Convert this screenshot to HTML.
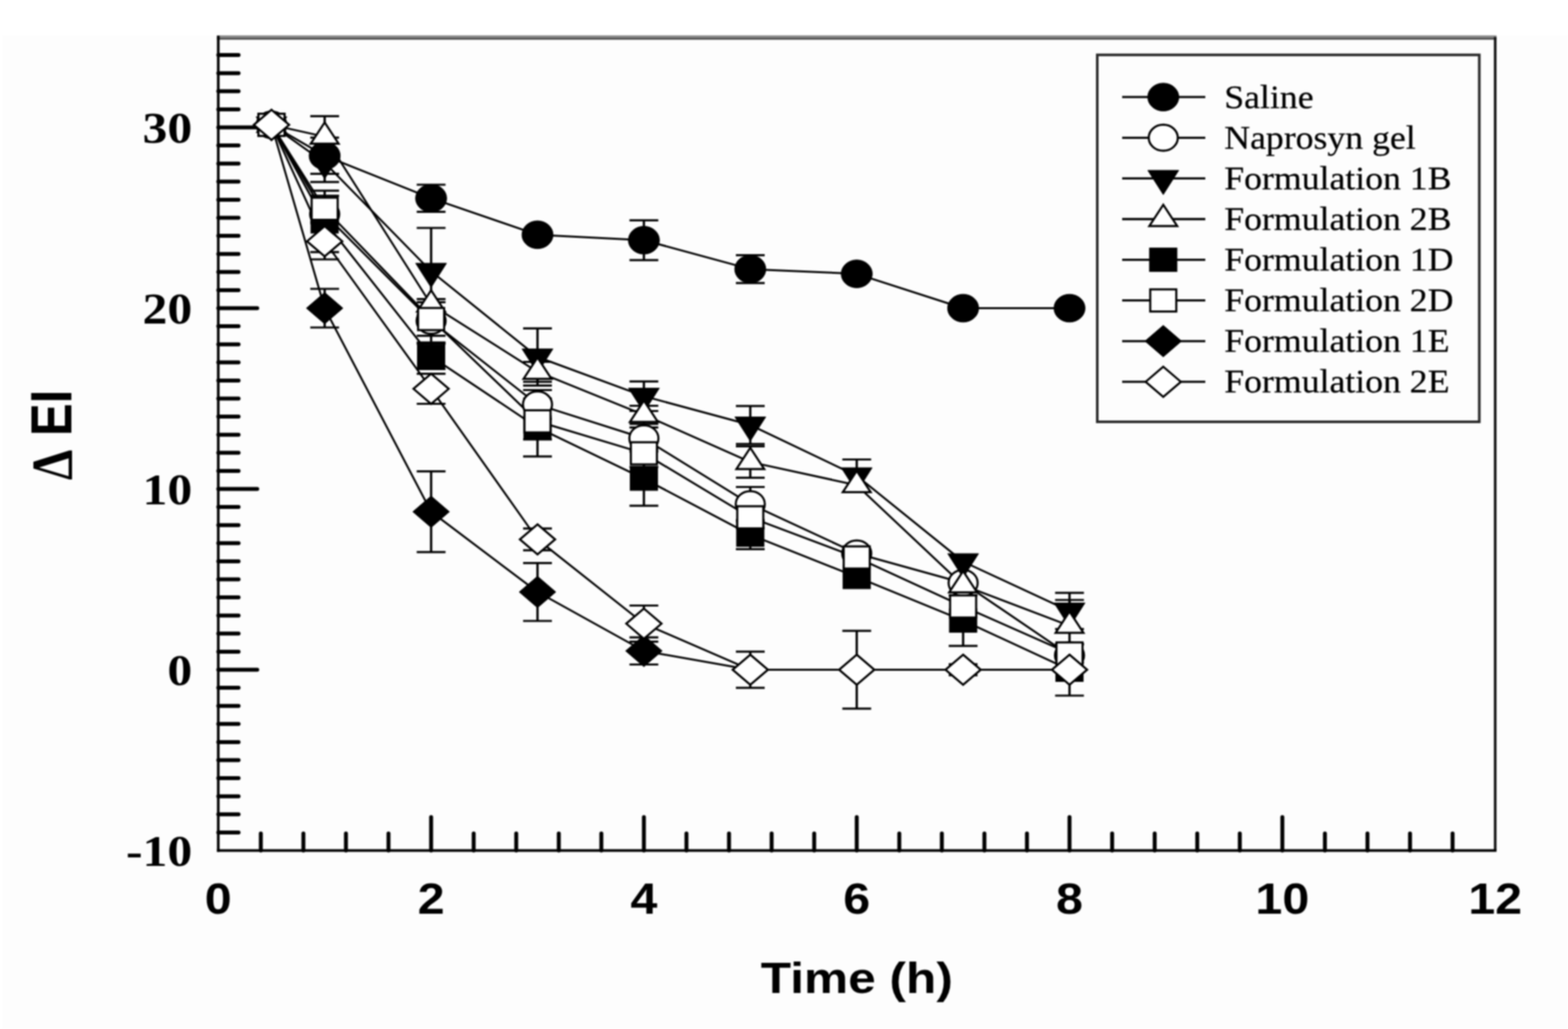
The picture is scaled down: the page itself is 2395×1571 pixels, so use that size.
<!DOCTYPE html>
<html><head><meta charset="utf-8"><title>Chart</title>
<style>html,body{margin:0;padding:0;background:#fff;} svg{display:block;filter:blur(1px);}</style>
</head><body>
<svg width="2395" height="1571" viewBox="0 0 2395 1571">
<rect x="0" y="0" width="2395" height="1571" fill="#ffffff"/>
<rect x="4" y="54" width="2391" height="1517" fill="#fdfdfd"/>
<line x1="331.4" y1="55.8" x2="2285.8" y2="55.8" stroke="#8a8a8a" stroke-width="3.4"/>
<line x1="331.4" y1="59.0" x2="2285.8" y2="59.0" stroke="#454545" stroke-width="3.0"/>
<line x1="2283.8" y1="56.5" x2="2283.8" y2="1298.5" stroke="#111" stroke-width="4"/>
<line x1="333.4" y1="54.5" x2="333.4" y2="1300.5" stroke="#000" stroke-width="4"/>
<line x1="331.4" y1="1298.5" x2="2285.8" y2="1298.5" stroke="#000" stroke-width="4"/>
<line x1="333.4" y1="1270.9" x2="364.4" y2="1270.9" stroke="#000" stroke-width="6" stroke-linecap="round"/>
<line x1="333.4" y1="1243.3" x2="364.4" y2="1243.3" stroke="#000" stroke-width="6" stroke-linecap="round"/>
<line x1="333.4" y1="1215.7" x2="364.4" y2="1215.7" stroke="#000" stroke-width="6" stroke-linecap="round"/>
<line x1="333.4" y1="1188.1" x2="364.4" y2="1188.1" stroke="#000" stroke-width="6" stroke-linecap="round"/>
<line x1="333.4" y1="1160.5" x2="364.4" y2="1160.5" stroke="#000" stroke-width="6" stroke-linecap="round"/>
<line x1="333.4" y1="1132.9" x2="364.4" y2="1132.9" stroke="#000" stroke-width="6" stroke-linecap="round"/>
<line x1="333.4" y1="1105.3" x2="364.4" y2="1105.3" stroke="#000" stroke-width="6" stroke-linecap="round"/>
<line x1="333.4" y1="1077.7" x2="364.4" y2="1077.7" stroke="#000" stroke-width="6" stroke-linecap="round"/>
<line x1="333.4" y1="1050.1" x2="364.4" y2="1050.1" stroke="#000" stroke-width="6" stroke-linecap="round"/>
<line x1="333.4" y1="1022.5" x2="392.9" y2="1022.5" stroke="#000" stroke-width="6" stroke-linecap="round"/>
<line x1="333.4" y1="994.9" x2="364.4" y2="994.9" stroke="#000" stroke-width="6" stroke-linecap="round"/>
<line x1="333.4" y1="967.3" x2="364.4" y2="967.3" stroke="#000" stroke-width="6" stroke-linecap="round"/>
<line x1="333.4" y1="939.7" x2="364.4" y2="939.7" stroke="#000" stroke-width="6" stroke-linecap="round"/>
<line x1="333.4" y1="912.1" x2="364.4" y2="912.1" stroke="#000" stroke-width="6" stroke-linecap="round"/>
<line x1="333.4" y1="884.5" x2="364.4" y2="884.5" stroke="#000" stroke-width="6" stroke-linecap="round"/>
<line x1="333.4" y1="856.9" x2="364.4" y2="856.9" stroke="#000" stroke-width="6" stroke-linecap="round"/>
<line x1="333.4" y1="829.3" x2="364.4" y2="829.3" stroke="#000" stroke-width="6" stroke-linecap="round"/>
<line x1="333.4" y1="801.7" x2="364.4" y2="801.7" stroke="#000" stroke-width="6" stroke-linecap="round"/>
<line x1="333.4" y1="774.1" x2="364.4" y2="774.1" stroke="#000" stroke-width="6" stroke-linecap="round"/>
<line x1="333.4" y1="746.5" x2="392.9" y2="746.5" stroke="#000" stroke-width="6" stroke-linecap="round"/>
<line x1="333.4" y1="718.9" x2="364.4" y2="718.9" stroke="#000" stroke-width="6" stroke-linecap="round"/>
<line x1="333.4" y1="691.3" x2="364.4" y2="691.3" stroke="#000" stroke-width="6" stroke-linecap="round"/>
<line x1="333.4" y1="663.7" x2="364.4" y2="663.7" stroke="#000" stroke-width="6" stroke-linecap="round"/>
<line x1="333.4" y1="636.1" x2="364.4" y2="636.1" stroke="#000" stroke-width="6" stroke-linecap="round"/>
<line x1="333.4" y1="608.5" x2="364.4" y2="608.5" stroke="#000" stroke-width="6" stroke-linecap="round"/>
<line x1="333.4" y1="580.9" x2="364.4" y2="580.9" stroke="#000" stroke-width="6" stroke-linecap="round"/>
<line x1="333.4" y1="553.3" x2="364.4" y2="553.3" stroke="#000" stroke-width="6" stroke-linecap="round"/>
<line x1="333.4" y1="525.7" x2="364.4" y2="525.7" stroke="#000" stroke-width="6" stroke-linecap="round"/>
<line x1="333.4" y1="498.1" x2="364.4" y2="498.1" stroke="#000" stroke-width="6" stroke-linecap="round"/>
<line x1="333.4" y1="470.5" x2="392.9" y2="470.5" stroke="#000" stroke-width="6" stroke-linecap="round"/>
<line x1="333.4" y1="442.9" x2="364.4" y2="442.9" stroke="#000" stroke-width="6" stroke-linecap="round"/>
<line x1="333.4" y1="415.3" x2="364.4" y2="415.3" stroke="#000" stroke-width="6" stroke-linecap="round"/>
<line x1="333.4" y1="387.7" x2="364.4" y2="387.7" stroke="#000" stroke-width="6" stroke-linecap="round"/>
<line x1="333.4" y1="360.1" x2="364.4" y2="360.1" stroke="#000" stroke-width="6" stroke-linecap="round"/>
<line x1="333.4" y1="332.5" x2="364.4" y2="332.5" stroke="#000" stroke-width="6" stroke-linecap="round"/>
<line x1="333.4" y1="304.9" x2="364.4" y2="304.9" stroke="#000" stroke-width="6" stroke-linecap="round"/>
<line x1="333.4" y1="277.3" x2="364.4" y2="277.3" stroke="#000" stroke-width="6" stroke-linecap="round"/>
<line x1="333.4" y1="249.7" x2="364.4" y2="249.7" stroke="#000" stroke-width="6" stroke-linecap="round"/>
<line x1="333.4" y1="222.1" x2="364.4" y2="222.1" stroke="#000" stroke-width="6" stroke-linecap="round"/>
<line x1="333.4" y1="194.5" x2="392.9" y2="194.5" stroke="#000" stroke-width="6" stroke-linecap="round"/>
<line x1="333.4" y1="166.9" x2="364.4" y2="166.9" stroke="#000" stroke-width="6" stroke-linecap="round"/>
<line x1="333.4" y1="139.3" x2="364.4" y2="139.3" stroke="#000" stroke-width="6" stroke-linecap="round"/>
<line x1="333.4" y1="111.7" x2="364.4" y2="111.7" stroke="#000" stroke-width="6" stroke-linecap="round"/>
<line x1="333.4" y1="84.1" x2="364.4" y2="84.1" stroke="#000" stroke-width="6" stroke-linecap="round"/>
<line x1="398.4" y1="1298.5" x2="398.4" y2="1272.5" stroke="#000" stroke-width="6" stroke-linecap="round"/>
<line x1="463.4" y1="1298.5" x2="463.4" y2="1272.5" stroke="#000" stroke-width="6" stroke-linecap="round"/>
<line x1="528.4" y1="1298.5" x2="528.4" y2="1272.5" stroke="#000" stroke-width="6" stroke-linecap="round"/>
<line x1="593.4" y1="1298.5" x2="593.4" y2="1272.5" stroke="#000" stroke-width="6" stroke-linecap="round"/>
<line x1="658.5" y1="1298.5" x2="658.5" y2="1247.5" stroke="#000" stroke-width="6" stroke-linecap="round"/>
<line x1="723.5" y1="1298.5" x2="723.5" y2="1272.5" stroke="#000" stroke-width="6" stroke-linecap="round"/>
<line x1="788.5" y1="1298.5" x2="788.5" y2="1272.5" stroke="#000" stroke-width="6" stroke-linecap="round"/>
<line x1="853.5" y1="1298.5" x2="853.5" y2="1272.5" stroke="#000" stroke-width="6" stroke-linecap="round"/>
<line x1="918.5" y1="1298.5" x2="918.5" y2="1272.5" stroke="#000" stroke-width="6" stroke-linecap="round"/>
<line x1="983.5" y1="1298.5" x2="983.5" y2="1247.5" stroke="#000" stroke-width="6" stroke-linecap="round"/>
<line x1="1048.5" y1="1298.5" x2="1048.5" y2="1272.5" stroke="#000" stroke-width="6" stroke-linecap="round"/>
<line x1="1113.5" y1="1298.5" x2="1113.5" y2="1272.5" stroke="#000" stroke-width="6" stroke-linecap="round"/>
<line x1="1178.6" y1="1298.5" x2="1178.6" y2="1272.5" stroke="#000" stroke-width="6" stroke-linecap="round"/>
<line x1="1243.6" y1="1298.5" x2="1243.6" y2="1272.5" stroke="#000" stroke-width="6" stroke-linecap="round"/>
<line x1="1308.6" y1="1298.5" x2="1308.6" y2="1247.5" stroke="#000" stroke-width="6" stroke-linecap="round"/>
<line x1="1373.6" y1="1298.5" x2="1373.6" y2="1272.5" stroke="#000" stroke-width="6" stroke-linecap="round"/>
<line x1="1438.6" y1="1298.5" x2="1438.6" y2="1272.5" stroke="#000" stroke-width="6" stroke-linecap="round"/>
<line x1="1503.6" y1="1298.5" x2="1503.6" y2="1272.5" stroke="#000" stroke-width="6" stroke-linecap="round"/>
<line x1="1568.6" y1="1298.5" x2="1568.6" y2="1272.5" stroke="#000" stroke-width="6" stroke-linecap="round"/>
<line x1="1633.6" y1="1298.5" x2="1633.6" y2="1247.5" stroke="#000" stroke-width="6" stroke-linecap="round"/>
<line x1="1698.7" y1="1298.5" x2="1698.7" y2="1272.5" stroke="#000" stroke-width="6" stroke-linecap="round"/>
<line x1="1763.7" y1="1298.5" x2="1763.7" y2="1272.5" stroke="#000" stroke-width="6" stroke-linecap="round"/>
<line x1="1828.7" y1="1298.5" x2="1828.7" y2="1272.5" stroke="#000" stroke-width="6" stroke-linecap="round"/>
<line x1="1893.7" y1="1298.5" x2="1893.7" y2="1272.5" stroke="#000" stroke-width="6" stroke-linecap="round"/>
<line x1="1958.7" y1="1298.5" x2="1958.7" y2="1247.5" stroke="#000" stroke-width="6" stroke-linecap="round"/>
<line x1="2023.7" y1="1298.5" x2="2023.7" y2="1272.5" stroke="#000" stroke-width="6" stroke-linecap="round"/>
<line x1="2088.7" y1="1298.5" x2="2088.7" y2="1272.5" stroke="#000" stroke-width="6" stroke-linecap="round"/>
<line x1="2153.7" y1="1298.5" x2="2153.7" y2="1272.5" stroke="#000" stroke-width="6" stroke-linecap="round"/>
<line x1="2218.7" y1="1298.5" x2="2218.7" y2="1272.5" stroke="#000" stroke-width="6" stroke-linecap="round"/>
<text transform="translate(293.5,217.5) scale(1.13,1)" text-anchor="end" font-family="'Liberation Serif', 'Times New Roman', serif" font-weight="bold" font-size="67">30</text>
<text transform="translate(293.5,493.5) scale(1.13,1)" text-anchor="end" font-family="'Liberation Serif', 'Times New Roman', serif" font-weight="bold" font-size="67">20</text>
<text transform="translate(293.5,769.5) scale(1.13,1)" text-anchor="end" font-family="'Liberation Serif', 'Times New Roman', serif" font-weight="bold" font-size="67">10</text>
<text transform="translate(293.5,1045.5) scale(1.13,1)" text-anchor="end" font-family="'Liberation Serif', 'Times New Roman', serif" font-weight="bold" font-size="67">0</text>
<text transform="translate(293.5,1321.5) scale(1.13,1)" text-anchor="end" font-family="'Liberation Serif', 'Times New Roman', serif" font-weight="bold" font-size="67">-10</text>
<text transform="translate(333.4,1395) scale(1.12,1)" text-anchor="middle" font-family="'Liberation Sans', Arial, sans-serif" font-weight="bold" font-size="66">0</text>
<text transform="translate(658.5,1395) scale(1.12,1)" text-anchor="middle" font-family="'Liberation Sans', Arial, sans-serif" font-weight="bold" font-size="66">2</text>
<text transform="translate(983.5,1395) scale(1.12,1)" text-anchor="middle" font-family="'Liberation Sans', Arial, sans-serif" font-weight="bold" font-size="66">4</text>
<text transform="translate(1308.6,1395) scale(1.12,1)" text-anchor="middle" font-family="'Liberation Sans', Arial, sans-serif" font-weight="bold" font-size="66">6</text>
<text transform="translate(1633.6,1395) scale(1.12,1)" text-anchor="middle" font-family="'Liberation Sans', Arial, sans-serif" font-weight="bold" font-size="66">8</text>
<text transform="translate(1958.7,1395) scale(1.12,1)" text-anchor="middle" font-family="'Liberation Sans', Arial, sans-serif" font-weight="bold" font-size="66">10</text>
<text transform="translate(2283.8,1395) scale(1.12,1)" text-anchor="middle" font-family="'Liberation Sans', Arial, sans-serif" font-weight="bold" font-size="66">12</text>
<text transform="translate(1308.7,1516.4) scale(1.14,1)" text-anchor="middle" font-family="'Liberation Sans', Arial, sans-serif" font-weight="bold" font-size="66.5">Time (h)</text>
<text transform="translate(109.4,733) rotate(-90) scale(1,1.19)" font-family="'Liberation Sans', Arial, sans-serif" font-weight="bold" font-size="75"><tspan font-family="'Liberation Serif', 'Times New Roman', serif" font-weight="bold" font-size="74">&#916;</tspan> EI</text>
<polyline points="414.7,190.6 495.9,237.8 658.5,302.7 821.0,358.4 983.5,366.7 1146.0,410.9 1308.6,418.1 1471.1,470.5 1633.6,470.5" fill="none" stroke="#000" stroke-width="3" stroke-linejoin="round"/>
<polyline points="414.7,190.6 495.9,327.0 658.5,489.8 821.0,617.6 983.5,669.2 1146.0,769.7 1308.6,845.0 1471.1,890.0 1633.6,1000.4" fill="none" stroke="#000" stroke-width="3" stroke-linejoin="round"/>
<polyline points="414.7,190.6 495.9,248.3 658.5,414.2 821.0,545.0 983.5,604.9 1146.0,648.8 1308.6,726.4 1471.1,857.5 1633.6,932.8" fill="none" stroke="#000" stroke-width="3" stroke-linejoin="round"/>
<polyline points="414.7,190.6 495.9,208.6 658.5,465.0 821.0,567.7 983.5,633.3 1146.0,705.4 1308.6,740.7 1471.1,893.6 1633.6,955.4" fill="none" stroke="#000" stroke-width="3" stroke-linejoin="round"/>
<polyline points="414.7,190.6 495.9,338.0 658.5,544.2 821.0,652.7 983.5,730.8 1146.0,816.3 1308.6,880.9 1471.1,947.4 1633.6,1022.5" fill="none" stroke="#000" stroke-width="3" stroke-linejoin="round"/>
<polyline points="414.7,190.6 495.9,318.7 658.5,487.1 821.0,643.3 983.5,692.1 1146.0,789.8 1308.6,851.1 1471.1,925.9 1633.6,997.7" fill="none" stroke="#000" stroke-width="3" stroke-linejoin="round"/>
<polyline points="414.7,190.6 495.9,470.5 658.5,781.3 821.0,903.8 983.5,993.8 1146.0,1022.5 1308.6,1022.5 1471.1,1022.5 1633.6,1022.5" fill="none" stroke="#000" stroke-width="3" stroke-linejoin="round"/>
<polyline points="414.7,190.6 495.9,368.4 658.5,593.6 821.0,823.5 983.5,952.1 1146.0,1022.5 1308.6,1022.5 1471.1,1022.5 1633.6,1022.5" fill="none" stroke="#000" stroke-width="3" stroke-linejoin="round"/>
<line x1="658.5" y1="282.0" x2="658.5" y2="323.4" stroke="#000" stroke-width="3.5"/>
<line x1="636.5" y1="282.0" x2="680.5" y2="282.0" stroke="#000" stroke-width="3.2"/>
<line x1="636.5" y1="323.4" x2="680.5" y2="323.4" stroke="#000" stroke-width="3.2"/>
<line x1="983.5" y1="336.4" x2="983.5" y2="397.1" stroke="#000" stroke-width="3.5"/>
<line x1="961.5" y1="336.4" x2="1005.5" y2="336.4" stroke="#000" stroke-width="3.2"/>
<line x1="961.5" y1="397.1" x2="1005.5" y2="397.1" stroke="#000" stroke-width="3.2"/>
<line x1="1146.0" y1="389.6" x2="1146.0" y2="432.1" stroke="#000" stroke-width="3.5"/>
<line x1="1124.0" y1="389.6" x2="1168.0" y2="389.6" stroke="#000" stroke-width="3.2"/>
<line x1="1124.0" y1="432.1" x2="1168.0" y2="432.1" stroke="#000" stroke-width="3.2"/>
<line x1="495.9" y1="210.2" x2="495.9" y2="265.4" stroke="#000" stroke-width="3.5"/>
<line x1="473.9" y1="210.2" x2="517.9" y2="210.2" stroke="#000" stroke-width="3.2"/>
<line x1="473.9" y1="265.4" x2="517.9" y2="265.4" stroke="#000" stroke-width="3.2"/>
<line x1="658.5" y1="456.7" x2="658.5" y2="522.9" stroke="#000" stroke-width="3.5"/>
<line x1="636.5" y1="456.7" x2="680.5" y2="456.7" stroke="#000" stroke-width="3.2"/>
<line x1="636.5" y1="522.9" x2="680.5" y2="522.9" stroke="#000" stroke-width="3.2"/>
<line x1="821.0" y1="595.5" x2="821.0" y2="639.7" stroke="#000" stroke-width="3.5"/>
<line x1="799.0" y1="595.5" x2="843.0" y2="595.5" stroke="#000" stroke-width="3.2"/>
<line x1="799.0" y1="639.7" x2="843.0" y2="639.7" stroke="#000" stroke-width="3.2"/>
<line x1="983.5" y1="652.7" x2="983.5" y2="685.8" stroke="#000" stroke-width="3.5"/>
<line x1="961.5" y1="652.7" x2="1005.5" y2="652.7" stroke="#000" stroke-width="3.2"/>
<line x1="961.5" y1="685.8" x2="1005.5" y2="685.8" stroke="#000" stroke-width="3.2"/>
<line x1="1146.0" y1="743.5" x2="1146.0" y2="795.9" stroke="#000" stroke-width="3.5"/>
<line x1="1124.0" y1="743.5" x2="1168.0" y2="743.5" stroke="#000" stroke-width="3.2"/>
<line x1="1124.0" y1="795.9" x2="1168.0" y2="795.9" stroke="#000" stroke-width="3.2"/>
<line x1="495.9" y1="218.8" x2="495.9" y2="277.9" stroke="#000" stroke-width="3.5"/>
<line x1="473.9" y1="218.8" x2="517.9" y2="218.8" stroke="#000" stroke-width="3.2"/>
<line x1="473.9" y1="277.9" x2="517.9" y2="277.9" stroke="#000" stroke-width="3.2"/>
<line x1="658.5" y1="348.0" x2="658.5" y2="480.4" stroke="#000" stroke-width="3.5"/>
<line x1="636.5" y1="348.0" x2="680.5" y2="348.0" stroke="#000" stroke-width="3.2"/>
<line x1="636.5" y1="480.4" x2="680.5" y2="480.4" stroke="#000" stroke-width="3.2"/>
<line x1="821.0" y1="501.4" x2="821.0" y2="588.6" stroke="#000" stroke-width="3.5"/>
<line x1="799.0" y1="501.4" x2="843.0" y2="501.4" stroke="#000" stroke-width="3.2"/>
<line x1="799.0" y1="588.6" x2="843.0" y2="588.6" stroke="#000" stroke-width="3.2"/>
<line x1="983.5" y1="582.3" x2="983.5" y2="627.5" stroke="#000" stroke-width="3.5"/>
<line x1="961.5" y1="582.3" x2="1005.5" y2="582.3" stroke="#000" stroke-width="3.2"/>
<line x1="961.5" y1="627.5" x2="1005.5" y2="627.5" stroke="#000" stroke-width="3.2"/>
<line x1="1146.0" y1="619.8" x2="1146.0" y2="677.8" stroke="#000" stroke-width="3.5"/>
<line x1="1124.0" y1="619.8" x2="1168.0" y2="619.8" stroke="#000" stroke-width="3.2"/>
<line x1="1124.0" y1="677.8" x2="1168.0" y2="677.8" stroke="#000" stroke-width="3.2"/>
<line x1="1308.6" y1="701.5" x2="1308.6" y2="751.2" stroke="#000" stroke-width="3.5"/>
<line x1="1286.6" y1="701.5" x2="1330.6" y2="701.5" stroke="#000" stroke-width="3.2"/>
<line x1="1286.6" y1="751.2" x2="1330.6" y2="751.2" stroke="#000" stroke-width="3.2"/>
<line x1="1633.6" y1="905.2" x2="1633.6" y2="960.4" stroke="#000" stroke-width="3.5"/>
<line x1="1611.6" y1="905.2" x2="1655.6" y2="905.2" stroke="#000" stroke-width="3.2"/>
<line x1="1611.6" y1="960.4" x2="1655.6" y2="960.4" stroke="#000" stroke-width="3.2"/>
<line x1="495.9" y1="177.4" x2="495.9" y2="239.8" stroke="#000" stroke-width="3.5"/>
<line x1="473.9" y1="177.4" x2="517.9" y2="177.4" stroke="#000" stroke-width="3.2"/>
<line x1="473.9" y1="239.8" x2="517.9" y2="239.8" stroke="#000" stroke-width="3.2"/>
<line x1="821.0" y1="552.5" x2="821.0" y2="582.8" stroke="#000" stroke-width="3.5"/>
<line x1="799.0" y1="552.5" x2="843.0" y2="552.5" stroke="#000" stroke-width="3.2"/>
<line x1="799.0" y1="582.8" x2="843.0" y2="582.8" stroke="#000" stroke-width="3.2"/>
<line x1="983.5" y1="619.5" x2="983.5" y2="647.1" stroke="#000" stroke-width="3.5"/>
<line x1="961.5" y1="619.5" x2="1005.5" y2="619.5" stroke="#000" stroke-width="3.2"/>
<line x1="961.5" y1="647.1" x2="1005.5" y2="647.1" stroke="#000" stroke-width="3.2"/>
<line x1="1146.0" y1="681.4" x2="1146.0" y2="729.4" stroke="#000" stroke-width="3.5"/>
<line x1="1124.0" y1="681.4" x2="1168.0" y2="681.4" stroke="#000" stroke-width="3.2"/>
<line x1="1124.0" y1="729.4" x2="1168.0" y2="729.4" stroke="#000" stroke-width="3.2"/>
<line x1="1633.6" y1="916.0" x2="1633.6" y2="994.9" stroke="#000" stroke-width="3.5"/>
<line x1="1611.6" y1="916.0" x2="1655.6" y2="916.0" stroke="#000" stroke-width="3.2"/>
<line x1="1611.6" y1="994.9" x2="1655.6" y2="994.9" stroke="#000" stroke-width="3.2"/>
<line x1="495.9" y1="291.1" x2="495.9" y2="384.9" stroke="#000" stroke-width="3.5"/>
<line x1="473.9" y1="291.1" x2="517.9" y2="291.1" stroke="#000" stroke-width="3.2"/>
<line x1="473.9" y1="384.9" x2="517.9" y2="384.9" stroke="#000" stroke-width="3.2"/>
<line x1="658.5" y1="524.9" x2="658.5" y2="563.5" stroke="#000" stroke-width="3.5"/>
<line x1="636.5" y1="524.9" x2="680.5" y2="524.9" stroke="#000" stroke-width="3.2"/>
<line x1="636.5" y1="563.5" x2="680.5" y2="563.5" stroke="#000" stroke-width="3.2"/>
<line x1="821.0" y1="608.5" x2="821.0" y2="696.8" stroke="#000" stroke-width="3.5"/>
<line x1="799.0" y1="608.5" x2="843.0" y2="608.5" stroke="#000" stroke-width="3.2"/>
<line x1="799.0" y1="696.8" x2="843.0" y2="696.8" stroke="#000" stroke-width="3.2"/>
<line x1="983.5" y1="689.4" x2="983.5" y2="772.2" stroke="#000" stroke-width="3.5"/>
<line x1="961.5" y1="689.4" x2="1005.5" y2="689.4" stroke="#000" stroke-width="3.2"/>
<line x1="961.5" y1="772.2" x2="1005.5" y2="772.2" stroke="#000" stroke-width="3.2"/>
<line x1="1146.0" y1="794.2" x2="1146.0" y2="838.4" stroke="#000" stroke-width="3.5"/>
<line x1="1124.0" y1="794.2" x2="1168.0" y2="794.2" stroke="#000" stroke-width="3.2"/>
<line x1="1124.0" y1="838.4" x2="1168.0" y2="838.4" stroke="#000" stroke-width="3.2"/>
<line x1="1471.1" y1="908.8" x2="1471.1" y2="986.1" stroke="#000" stroke-width="3.5"/>
<line x1="1449.1" y1="908.8" x2="1493.1" y2="908.8" stroke="#000" stroke-width="3.2"/>
<line x1="1449.1" y1="986.1" x2="1493.1" y2="986.1" stroke="#000" stroke-width="3.2"/>
<line x1="1633.6" y1="983.0" x2="1633.6" y2="1062.0" stroke="#000" stroke-width="3.5"/>
<line x1="1611.6" y1="983.0" x2="1655.6" y2="983.0" stroke="#000" stroke-width="3.2"/>
<line x1="1611.6" y1="1062.0" x2="1655.6" y2="1062.0" stroke="#000" stroke-width="3.2"/>
<line x1="495.9" y1="298.8" x2="495.9" y2="338.6" stroke="#000" stroke-width="3.5"/>
<line x1="473.9" y1="298.8" x2="517.9" y2="298.8" stroke="#000" stroke-width="3.2"/>
<line x1="473.9" y1="338.6" x2="517.9" y2="338.6" stroke="#000" stroke-width="3.2"/>
<line x1="658.5" y1="461.4" x2="658.5" y2="512.7" stroke="#000" stroke-width="3.5"/>
<line x1="636.5" y1="461.4" x2="680.5" y2="461.4" stroke="#000" stroke-width="3.2"/>
<line x1="636.5" y1="512.7" x2="680.5" y2="512.7" stroke="#000" stroke-width="3.2"/>
<line x1="821.0" y1="615.7" x2="821.0" y2="670.9" stroke="#000" stroke-width="3.5"/>
<line x1="799.0" y1="615.7" x2="843.0" y2="615.7" stroke="#000" stroke-width="3.2"/>
<line x1="799.0" y1="670.9" x2="843.0" y2="670.9" stroke="#000" stroke-width="3.2"/>
<line x1="983.5" y1="671.4" x2="983.5" y2="712.8" stroke="#000" stroke-width="3.5"/>
<line x1="961.5" y1="671.4" x2="1005.5" y2="671.4" stroke="#000" stroke-width="3.2"/>
<line x1="961.5" y1="712.8" x2="1005.5" y2="712.8" stroke="#000" stroke-width="3.2"/>
<line x1="1146.0" y1="773.3" x2="1146.0" y2="806.4" stroke="#000" stroke-width="3.5"/>
<line x1="1124.0" y1="773.3" x2="1168.0" y2="773.3" stroke="#000" stroke-width="3.2"/>
<line x1="1124.0" y1="806.4" x2="1168.0" y2="806.4" stroke="#000" stroke-width="3.2"/>
<line x1="1633.6" y1="983.9" x2="1633.6" y2="1011.5" stroke="#000" stroke-width="3.5"/>
<line x1="1611.6" y1="983.9" x2="1655.6" y2="983.9" stroke="#000" stroke-width="3.2"/>
<line x1="1611.6" y1="1011.5" x2="1655.6" y2="1011.5" stroke="#000" stroke-width="3.2"/>
<line x1="495.9" y1="441.0" x2="495.9" y2="500.0" stroke="#000" stroke-width="3.5"/>
<line x1="473.9" y1="441.0" x2="517.9" y2="441.0" stroke="#000" stroke-width="3.2"/>
<line x1="473.9" y1="500.0" x2="517.9" y2="500.0" stroke="#000" stroke-width="3.2"/>
<line x1="658.5" y1="719.7" x2="658.5" y2="842.8" stroke="#000" stroke-width="3.5"/>
<line x1="636.5" y1="719.7" x2="680.5" y2="719.7" stroke="#000" stroke-width="3.2"/>
<line x1="636.5" y1="842.8" x2="680.5" y2="842.8" stroke="#000" stroke-width="3.2"/>
<line x1="821.0" y1="859.7" x2="821.0" y2="948.0" stroke="#000" stroke-width="3.5"/>
<line x1="799.0" y1="859.7" x2="843.0" y2="859.7" stroke="#000" stroke-width="3.2"/>
<line x1="799.0" y1="948.0" x2="843.0" y2="948.0" stroke="#000" stroke-width="3.2"/>
<line x1="983.5" y1="973.1" x2="983.5" y2="1014.5" stroke="#000" stroke-width="3.5"/>
<line x1="961.5" y1="973.1" x2="1005.5" y2="973.1" stroke="#000" stroke-width="3.2"/>
<line x1="961.5" y1="1014.5" x2="1005.5" y2="1014.5" stroke="#000" stroke-width="3.2"/>
<line x1="495.9" y1="340.8" x2="495.9" y2="396.0" stroke="#000" stroke-width="3.5"/>
<line x1="473.9" y1="340.8" x2="517.9" y2="340.8" stroke="#000" stroke-width="3.2"/>
<line x1="473.9" y1="396.0" x2="517.9" y2="396.0" stroke="#000" stroke-width="3.2"/>
<line x1="658.5" y1="570.7" x2="658.5" y2="616.5" stroke="#000" stroke-width="3.5"/>
<line x1="636.5" y1="570.7" x2="680.5" y2="570.7" stroke="#000" stroke-width="3.2"/>
<line x1="636.5" y1="616.5" x2="680.5" y2="616.5" stroke="#000" stroke-width="3.2"/>
<line x1="821.0" y1="806.9" x2="821.0" y2="840.1" stroke="#000" stroke-width="3.5"/>
<line x1="799.0" y1="806.9" x2="843.0" y2="806.9" stroke="#000" stroke-width="3.2"/>
<line x1="799.0" y1="840.1" x2="843.0" y2="840.1" stroke="#000" stroke-width="3.2"/>
<line x1="983.5" y1="924.5" x2="983.5" y2="979.7" stroke="#000" stroke-width="3.5"/>
<line x1="961.5" y1="924.5" x2="1005.5" y2="924.5" stroke="#000" stroke-width="3.2"/>
<line x1="961.5" y1="979.7" x2="1005.5" y2="979.7" stroke="#000" stroke-width="3.2"/>
<line x1="1146.0" y1="994.9" x2="1146.0" y2="1050.1" stroke="#000" stroke-width="3.5"/>
<line x1="1124.0" y1="994.9" x2="1168.0" y2="994.9" stroke="#000" stroke-width="3.2"/>
<line x1="1124.0" y1="1050.1" x2="1168.0" y2="1050.1" stroke="#000" stroke-width="3.2"/>
<line x1="1308.6" y1="963.2" x2="1308.6" y2="1081.8" stroke="#000" stroke-width="3.5"/>
<line x1="1286.6" y1="963.2" x2="1330.6" y2="963.2" stroke="#000" stroke-width="3.2"/>
<line x1="1286.6" y1="1081.8" x2="1330.6" y2="1081.8" stroke="#000" stroke-width="3.2"/>
<line x1="1471.1" y1="1014.2" x2="1471.1" y2="1030.8" stroke="#000" stroke-width="3.5"/>
<line x1="1449.1" y1="1014.2" x2="1493.1" y2="1014.2" stroke="#000" stroke-width="3.2"/>
<line x1="1449.1" y1="1030.8" x2="1493.1" y2="1030.8" stroke="#000" stroke-width="3.2"/>
<ellipse cx="414.7" cy="190.6" rx="23.8" ry="21.3" fill="#000" stroke="#000" stroke-width="1"/>
<ellipse cx="495.9" cy="237.8" rx="23.8" ry="21.3" fill="#000" stroke="#000" stroke-width="1"/>
<ellipse cx="658.5" cy="302.7" rx="23.8" ry="21.3" fill="#000" stroke="#000" stroke-width="1"/>
<ellipse cx="821.0" cy="358.4" rx="23.8" ry="21.3" fill="#000" stroke="#000" stroke-width="1"/>
<ellipse cx="983.5" cy="366.7" rx="23.8" ry="21.3" fill="#000" stroke="#000" stroke-width="1"/>
<ellipse cx="1146.0" cy="410.9" rx="23.8" ry="21.3" fill="#000" stroke="#000" stroke-width="1"/>
<ellipse cx="1308.6" cy="418.1" rx="23.8" ry="21.3" fill="#000" stroke="#000" stroke-width="1"/>
<ellipse cx="1471.1" cy="470.5" rx="23.8" ry="21.3" fill="#000" stroke="#000" stroke-width="1"/>
<ellipse cx="1633.6" cy="470.5" rx="23.8" ry="21.3" fill="#000" stroke="#000" stroke-width="1"/>
<ellipse cx="414.7" cy="190.6" rx="22.2" ry="19.9" fill="#fff" stroke="#000" stroke-width="3.2"/>
<ellipse cx="495.9" cy="327.0" rx="22.2" ry="19.9" fill="#fff" stroke="#000" stroke-width="3.2"/>
<ellipse cx="658.5" cy="489.8" rx="22.2" ry="19.9" fill="#fff" stroke="#000" stroke-width="3.2"/>
<ellipse cx="821.0" cy="617.6" rx="22.2" ry="19.9" fill="#fff" stroke="#000" stroke-width="3.2"/>
<ellipse cx="983.5" cy="669.2" rx="22.2" ry="19.9" fill="#fff" stroke="#000" stroke-width="3.2"/>
<ellipse cx="1146.0" cy="769.7" rx="22.2" ry="19.9" fill="#fff" stroke="#000" stroke-width="3.2"/>
<ellipse cx="1308.6" cy="845.0" rx="22.2" ry="19.9" fill="#fff" stroke="#000" stroke-width="3.2"/>
<ellipse cx="1471.1" cy="890.0" rx="22.2" ry="19.9" fill="#fff" stroke="#000" stroke-width="3.2"/>
<ellipse cx="1633.6" cy="1000.4" rx="22.2" ry="19.9" fill="#fff" stroke="#000" stroke-width="3.2"/>
<polygon points="391.0,178.3 438.3,178.3 414.7,215.4" fill="#000" stroke="#000" stroke-width="1" stroke-linejoin="miter"/>
<polygon points="472.3,236.0 519.6,236.0 495.9,273.1" fill="#000" stroke="#000" stroke-width="1" stroke-linejoin="miter"/>
<polygon points="634.8,401.9 682.1,401.9 658.5,439.0" fill="#000" stroke="#000" stroke-width="1" stroke-linejoin="miter"/>
<polygon points="797.3,532.7 844.6,532.7 821.0,569.8" fill="#000" stroke="#000" stroke-width="1" stroke-linejoin="miter"/>
<polygon points="959.9,592.6 1007.2,592.6 983.5,629.7" fill="#000" stroke="#000" stroke-width="1" stroke-linejoin="miter"/>
<polygon points="1122.4,636.5 1169.7,636.5 1146.0,673.6" fill="#000" stroke="#000" stroke-width="1" stroke-linejoin="miter"/>
<polygon points="1284.9,714.1 1332.2,714.1 1308.6,751.2" fill="#000" stroke="#000" stroke-width="1" stroke-linejoin="miter"/>
<polygon points="1447.5,845.2 1494.8,845.2 1471.1,882.3" fill="#000" stroke="#000" stroke-width="1" stroke-linejoin="miter"/>
<polygon points="1610.0,920.5 1657.3,920.5 1633.6,957.6" fill="#000" stroke="#000" stroke-width="1" stroke-linejoin="miter"/>
<polygon points="414.7,168.8 435.9,201.4 393.4,201.4" fill="#fff" stroke="#000" stroke-width="3.2" stroke-linejoin="miter"/>
<polygon points="495.9,186.8 517.2,219.3 474.6,219.3" fill="#fff" stroke="#000" stroke-width="3.2" stroke-linejoin="miter"/>
<polygon points="658.5,443.2 679.7,475.7 637.2,475.7" fill="#fff" stroke="#000" stroke-width="3.2" stroke-linejoin="miter"/>
<polygon points="821.0,545.9 842.3,578.4 799.7,578.4" fill="#fff" stroke="#000" stroke-width="3.2" stroke-linejoin="miter"/>
<polygon points="983.5,611.6 1004.8,644.1 962.2,644.1" fill="#fff" stroke="#000" stroke-width="3.2" stroke-linejoin="miter"/>
<polygon points="1146.0,683.6 1167.3,716.1 1124.8,716.1" fill="#fff" stroke="#000" stroke-width="3.2" stroke-linejoin="miter"/>
<polygon points="1308.6,718.9 1329.9,751.4 1287.3,751.4" fill="#fff" stroke="#000" stroke-width="3.2" stroke-linejoin="miter"/>
<polygon points="1471.1,871.8 1492.4,904.3 1449.8,904.3" fill="#fff" stroke="#000" stroke-width="3.2" stroke-linejoin="miter"/>
<polygon points="1633.6,933.6 1654.9,966.2 1612.4,966.2" fill="#fff" stroke="#000" stroke-width="3.2" stroke-linejoin="miter"/>
<rect x="393.7" y="172.6" width="42.0" height="36.0" fill="#000" stroke="#000" stroke-width="1" stroke-linejoin="miter"/>
<rect x="474.9" y="320.0" width="42.0" height="36.0" fill="#000" stroke="#000" stroke-width="1" stroke-linejoin="miter"/>
<rect x="637.5" y="526.2" width="42.0" height="36.0" fill="#000" stroke="#000" stroke-width="1" stroke-linejoin="miter"/>
<rect x="800.0" y="634.7" width="42.0" height="36.0" fill="#000" stroke="#000" stroke-width="1" stroke-linejoin="miter"/>
<rect x="962.5" y="712.8" width="42.0" height="36.0" fill="#000" stroke="#000" stroke-width="1" stroke-linejoin="miter"/>
<rect x="1125.0" y="798.3" width="42.0" height="36.0" fill="#000" stroke="#000" stroke-width="1" stroke-linejoin="miter"/>
<rect x="1287.6" y="862.9" width="42.0" height="36.0" fill="#000" stroke="#000" stroke-width="1" stroke-linejoin="miter"/>
<rect x="1450.1" y="929.4" width="42.0" height="36.0" fill="#000" stroke="#000" stroke-width="1" stroke-linejoin="miter"/>
<rect x="1612.6" y="1004.5" width="42.0" height="36.0" fill="#000" stroke="#000" stroke-width="1" stroke-linejoin="miter"/>
<rect x="394.8" y="173.7" width="39.8" height="33.8" fill="#fff" stroke="#000" stroke-width="3.2" stroke-linejoin="miter"/>
<rect x="476.0" y="301.8" width="39.8" height="33.8" fill="#fff" stroke="#000" stroke-width="3.2" stroke-linejoin="miter"/>
<rect x="638.6" y="470.2" width="39.8" height="33.8" fill="#fff" stroke="#000" stroke-width="3.2" stroke-linejoin="miter"/>
<rect x="801.1" y="626.4" width="39.8" height="33.8" fill="#fff" stroke="#000" stroke-width="3.2" stroke-linejoin="miter"/>
<rect x="963.6" y="675.2" width="39.8" height="33.8" fill="#fff" stroke="#000" stroke-width="3.2" stroke-linejoin="miter"/>
<rect x="1126.1" y="772.9" width="39.8" height="33.8" fill="#fff" stroke="#000" stroke-width="3.2" stroke-linejoin="miter"/>
<rect x="1288.7" y="834.2" width="39.8" height="33.8" fill="#fff" stroke="#000" stroke-width="3.2" stroke-linejoin="miter"/>
<rect x="1451.2" y="909.0" width="39.8" height="33.8" fill="#fff" stroke="#000" stroke-width="3.2" stroke-linejoin="miter"/>
<rect x="1613.7" y="980.8" width="39.8" height="33.8" fill="#fff" stroke="#000" stroke-width="3.2" stroke-linejoin="miter"/>
<polygon points="414.7,166.5 442.7,190.6 414.7,214.7 386.7,190.6" fill="#000" stroke="#000" stroke-width="1" stroke-linejoin="miter"/>
<polygon points="495.9,446.4 523.9,470.5 495.9,494.6 467.9,470.5" fill="#000" stroke="#000" stroke-width="1" stroke-linejoin="miter"/>
<polygon points="658.5,757.2 686.5,781.3 658.5,805.4 630.5,781.3" fill="#000" stroke="#000" stroke-width="1" stroke-linejoin="miter"/>
<polygon points="821.0,879.7 849.0,903.8 821.0,927.9 793.0,903.8" fill="#000" stroke="#000" stroke-width="1" stroke-linejoin="miter"/>
<polygon points="983.5,969.7 1011.5,993.8 983.5,1017.9 955.5,993.8" fill="#000" stroke="#000" stroke-width="1" stroke-linejoin="miter"/>
<polygon points="1146.0,998.4 1174.0,1022.5 1146.0,1046.6 1118.0,1022.5" fill="#000" stroke="#000" stroke-width="1" stroke-linejoin="miter"/>
<polygon points="1308.6,998.4 1336.6,1022.5 1308.6,1046.6 1280.6,1022.5" fill="#000" stroke="#000" stroke-width="1" stroke-linejoin="miter"/>
<polygon points="1471.1,998.4 1499.1,1022.5 1471.1,1046.6 1443.1,1022.5" fill="#000" stroke="#000" stroke-width="1" stroke-linejoin="miter"/>
<polygon points="1633.6,998.4 1661.6,1022.5 1633.6,1046.6 1605.6,1022.5" fill="#000" stroke="#000" stroke-width="1" stroke-linejoin="miter"/>
<polygon points="414.7,167.6 441.6,190.6 414.7,213.6 387.8,190.6" fill="#fff" stroke="#000" stroke-width="3.2" stroke-linejoin="miter"/>
<polygon points="495.9,345.4 522.8,368.4 495.9,391.4 469.0,368.4" fill="#fff" stroke="#000" stroke-width="3.2" stroke-linejoin="miter"/>
<polygon points="658.5,570.6 685.4,593.6 658.5,616.6 631.6,593.6" fill="#fff" stroke="#000" stroke-width="3.2" stroke-linejoin="miter"/>
<polygon points="821.0,800.5 847.9,823.5 821.0,846.5 794.1,823.5" fill="#fff" stroke="#000" stroke-width="3.2" stroke-linejoin="miter"/>
<polygon points="983.5,929.1 1010.4,952.1 983.5,975.1 956.6,952.1" fill="#fff" stroke="#000" stroke-width="3.2" stroke-linejoin="miter"/>
<polygon points="1146.0,999.5 1173.0,1022.5 1146.0,1045.5 1119.1,1022.5" fill="#fff" stroke="#000" stroke-width="3.2" stroke-linejoin="miter"/>
<polygon points="1308.6,999.5 1335.5,1022.5 1308.6,1045.5 1281.7,1022.5" fill="#fff" stroke="#000" stroke-width="3.2" stroke-linejoin="miter"/>
<polygon points="1471.1,999.5 1498.0,1022.5 1471.1,1045.5 1444.2,1022.5" fill="#fff" stroke="#000" stroke-width="3.2" stroke-linejoin="miter"/>
<polygon points="1633.6,999.5 1660.5,1022.5 1633.6,1045.5 1606.7,1022.5" fill="#fff" stroke="#000" stroke-width="3.2" stroke-linejoin="miter"/>
<rect x="1676" y="83.8" width="583.5" height="560.2" fill="#fdfdfd" stroke="#2a2a2a" stroke-width="4"/>
<line x1="1714" y1="148.2" x2="1841" y2="148.2" stroke="#000" stroke-width="3.3"/>
<ellipse cx="1776.8" cy="148.2" rx="23.8" ry="21.3" fill="#000" stroke="#000" stroke-width="1"/>
<text transform="translate(1870,164.6) scale(1.07,1)" font-family="'Liberation Serif', 'Times New Roman', serif" font-size="51" stroke="#000" stroke-width="0.3">Saline</text>
<line x1="1714" y1="210.3" x2="1841" y2="210.3" stroke="#000" stroke-width="3.3"/>
<ellipse cx="1776.8" cy="210.3" rx="22.2" ry="19.9" fill="#fff" stroke="#000" stroke-width="3.2"/>
<text transform="translate(1870,226.7) scale(1.07,1)" font-family="'Liberation Serif', 'Times New Roman', serif" font-size="51" stroke="#000" stroke-width="0.3">Naprosyn gel</text>
<line x1="1714" y1="272.4" x2="1841" y2="272.4" stroke="#000" stroke-width="3.3"/>
<polygon points="1753.1,260.1 1800.5,260.1 1776.8,297.2" fill="#000" stroke="#000" stroke-width="1" stroke-linejoin="miter"/>
<text transform="translate(1870,288.8) scale(1.07,1)" font-family="'Liberation Serif', 'Times New Roman', serif" font-size="51" stroke="#000" stroke-width="0.3">Formulation 1B</text>
<line x1="1714" y1="334.5" x2="1841" y2="334.5" stroke="#000" stroke-width="3.3"/>
<polygon points="1776.8,312.7 1798.1,345.2 1755.5,345.2" fill="#fff" stroke="#000" stroke-width="3.2" stroke-linejoin="miter"/>
<text transform="translate(1870,350.9) scale(1.07,1)" font-family="'Liberation Serif', 'Times New Roman', serif" font-size="51" stroke="#000" stroke-width="0.3">Formulation 2B</text>
<line x1="1714" y1="396.6" x2="1841" y2="396.6" stroke="#000" stroke-width="3.3"/>
<rect x="1755.8" y="378.6" width="42.0" height="36.0" fill="#000" stroke="#000" stroke-width="1" stroke-linejoin="miter"/>
<text transform="translate(1870,413.0) scale(1.07,1)" font-family="'Liberation Serif', 'Times New Roman', serif" font-size="51" stroke="#000" stroke-width="0.3">Formulation 1D</text>
<line x1="1714" y1="458.7" x2="1841" y2="458.7" stroke="#000" stroke-width="3.3"/>
<rect x="1756.9" y="441.8" width="39.8" height="33.8" fill="#fff" stroke="#000" stroke-width="3.2" stroke-linejoin="miter"/>
<text transform="translate(1870,475.1) scale(1.07,1)" font-family="'Liberation Serif', 'Times New Roman', serif" font-size="51" stroke="#000" stroke-width="0.3">Formulation 2D</text>
<line x1="1714" y1="520.8" x2="1841" y2="520.8" stroke="#000" stroke-width="3.3"/>
<polygon points="1776.8,496.7 1804.8,520.8 1776.8,544.9 1748.8,520.8" fill="#000" stroke="#000" stroke-width="1" stroke-linejoin="miter"/>
<text transform="translate(1870,537.2) scale(1.07,1)" font-family="'Liberation Serif', 'Times New Roman', serif" font-size="51" stroke="#000" stroke-width="0.3">Formulation 1E</text>
<line x1="1714" y1="582.9" x2="1841" y2="582.9" stroke="#000" stroke-width="3.3"/>
<polygon points="1776.8,559.9 1803.7,582.9 1776.8,605.9 1749.9,582.9" fill="#fff" stroke="#000" stroke-width="3.2" stroke-linejoin="miter"/>
<text transform="translate(1870,599.3) scale(1.07,1)" font-family="'Liberation Serif', 'Times New Roman', serif" font-size="51" stroke="#000" stroke-width="0.3">Formulation 2E</text>
</svg>
</body></html>
